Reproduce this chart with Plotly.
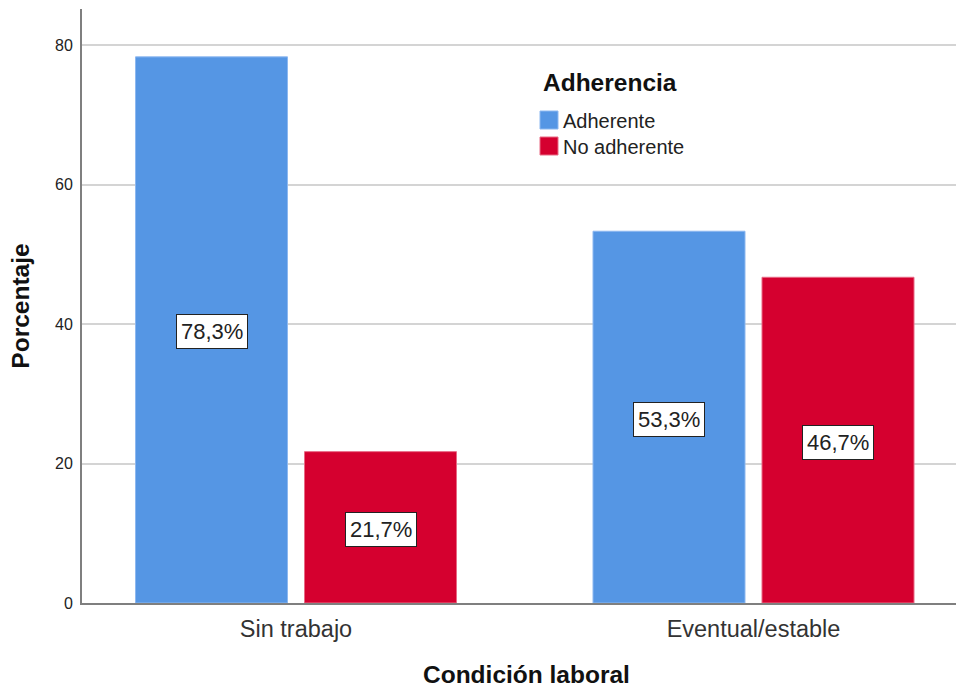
import plotly.graph_objects as go

categories = ["Sin trabajo", "Eventual/estable"]
series_names = ["Adherente", "No adherente"]
adherente = [78.3, 53.3]
no_adherente = [21.7, 46.7]
y_ticks = [0, 20, 40, 60, 80]
legend_title = "Adherencia"

colors = ["#5596E4", "#D5002F"]
edge = ["#8DB8F0", "#E86A85"]
xpos = list(range(len(categories)))

FONT = "Arial, Liberation Sans, sans-serif"
L, R, T, B = 82, 956, 9, 603          # plot area in pixels
PW, PH = R - L, B - T
UNIT = 457.5                          # pixels per category step


def px(x):
    return (x - L) / PW


def py(y):
    return (B - y) / PH


fig = go.Figure()
for name, vals, c, e in zip(series_names, [adherente, no_adherente], colors, edge):
    fig.add_trace(go.Bar(
        x=xpos, y=vals, name=name, showlegend=False,
        marker=dict(color=c, line=dict(color=e, width=1)),
    ))

# value labels in the middle of each bar
group_w = 338 / UNIT
slot = group_w / 2
for i, vals in enumerate([adherente, no_adherente]):
    for j, v in enumerate(vals):
        off = -slot / 2 if i == 0 else slot / 2
        fig.add_annotation(
            x=xpos[j] + off, y=v / 2, xref="x", yref="y",
            text=f"{v:.1f}%".replace(".", ","), showarrow=False,
            font=dict(family=FONT, size=22, color="#222222"),
            bgcolor="white", bordercolor="#222222", borderwidth=1, borderpad=4,
            yshift=-2,
        )

# legend (drawn manually to match square swatches)
fig.add_annotation(
    x=px(541), y=py(82), xref="paper", yref="paper", xanchor="left", yanchor="middle",
    text=f"<b>{legend_title}</b>", showarrow=False,
    font=dict(family=FONT, size=24.5, color="#111111"),
)
for k, (name, c, e) in enumerate(zip(series_names, colors, edge)):
    cy = 120 + 26 * k
    fig.add_shape(
        type="rect", xref="paper", yref="paper",
        x0=px(540), x1=px(558), y0=py(cy - 9), y1=py(cy + 9),
        fillcolor=c, line=dict(color=e, width=1),
    )
    fig.add_annotation(
        x=px(561), y=py(cy + 1), xref="paper", yref="paper", xanchor="left", yanchor="middle",
        text=name, showarrow=False,
        font=dict(family=FONT, size=20, color="#222222"),
    )

# x-axis title (slightly right of plot centre, as in the reference)
fig.add_annotation(
    x=px(526), y=py(674), xref="paper", yref="paper", xanchor="center", yanchor="middle",
    text="<b>Condición laboral</b>", showarrow=False,
    font=dict(family=FONT, size=24.5, color="#111111"),
)

fig.update_layout(
    width=956, height=688,
    margin=dict(l=L, r=956 - R, t=T, b=688 - B),
    paper_bgcolor="white", plot_bgcolor="white",
    barmode="group", bargap=1 - group_w, bargroupgap=17 / 169,
    font=dict(family=FONT, color="#222222"),
    showlegend=False,
)
fig.update_xaxes(
    range=[-(296 - L) / UNIT, (R - 296) / UNIT],
    tickvals=xpos, ticktext=categories,
    tickfont=dict(family=FONT, size=23.5, color="#333333"),
    showgrid=False, zeroline=False,
    showline=True, linecolor="#7f7f7f", linewidth=2,
    ticks="outside", ticklen=4, tickcolor="rgba(0,0,0,0)",
)
fig.update_yaxes(
    range=[0, PH / 6.975],
    tickvals=y_ticks, ticktext=[str(t) for t in y_ticks],
    tickfont=dict(family=FONT, size=16, color="#222222"),
    showgrid=True, gridcolor="#d4d4d4", gridwidth=2,
    zeroline=False, showline=True, linecolor="#7f7f7f", linewidth=2,
    ticks="outside", ticklen=4, tickcolor="rgba(0,0,0,0)",
    title=dict(text="<b>Porcentaje</b>", font=dict(family=FONT, size=24.5, color="#111111"), standoff=18),
)

fig.write_html("out.html", config={"displayModeBar": False},
               post_script="document.body.style.margin='0';")
